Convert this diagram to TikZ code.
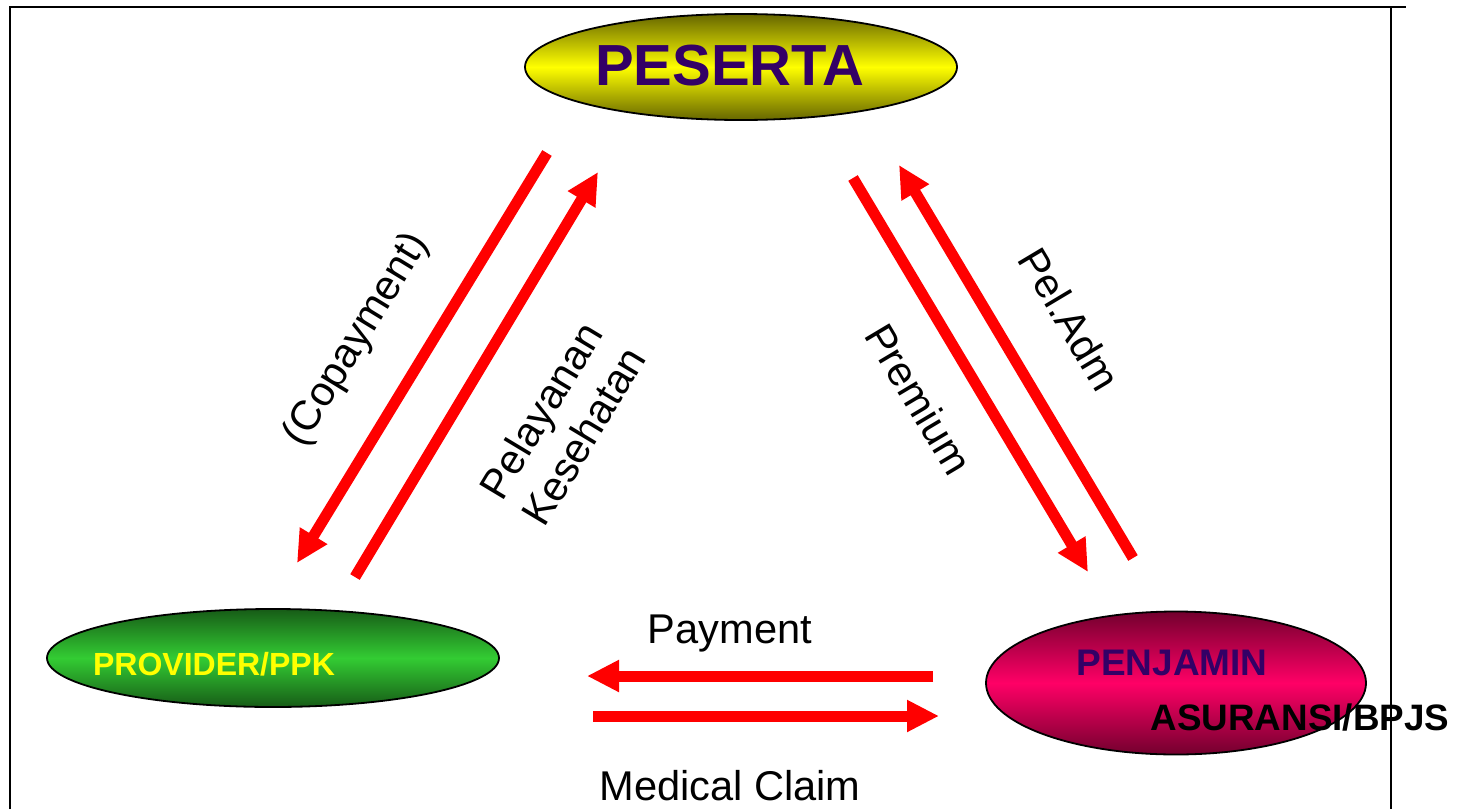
\documentclass[tikz,border=0pt]{standalone}
\usepackage{fontspec}
\setmainfont{Liberation Sans}
\usetikzlibrary{arrows.meta,shapes.geometric}
\definecolor{ungu}{HTML}{330066}
\definecolor{kuning}{HTML}{FFFF00}
\definecolor{hijau}{HTML}{33CC33}
\definecolor{merah}{HTML}{FF0066}
\tikzset{elips/.style={ellipse,draw=black,line width=0.9pt,inner sep=0pt},
         panah/.style={draw=red,line width=5.5pt,-{Triangle[length=16pt,width=15pt]}},
         teks/.style={font=\fontsize{20.8}{25}\selectfont,inner sep=0pt},
         tebal/.style={font=\bfseries,inner sep=0pt,anchor=base}}

\begin{document}
\begin{tikzpicture}[x=0.5pt,y=-0.5pt]
    \useasboundingbox (0,0) rectangle (1462,809);
    \draw [line width=1pt] (10,809) -- (10,7) -- (1406,7);
    \draw [line width=1pt] (1391,7) -- (1391,809);

    \path node [elips, minimum width=216pt, minimum height=53pt,
                top color=kuning!40!black, bottom color=kuning!40!black,
                middle color=kuning] (peserta) at (741,67) {}
          node [elips, minimum width=226pt, minimum height=49pt,
                top color=hijau!45!black, bottom color=hijau!45!black,
                middle color=hijau] (provider) at (273,658) {}
          node [elips, minimum width=190pt, minimum height=71.5pt,
                top color=merah!45!black, bottom color=merah!45!black,
                middle color=merah] (penjamin) at (1176,683) {};

    \path node [tebal, text=ungu, font=\fontsize{29}{34}\selectfont\bfseries] (t1) at (730,85) {PESERTA}
          node [tebal, text=kuning, font=\fontsize{16}{19}\selectfont\bfseries] (t2) at (214,675) {PROVIDER/PPK}
          node [tebal, text=ungu, font=\fontsize{18.5}{22}\selectfont\bfseries] (t3) at (1172,675) {PENJAMIN}
          node [tebal, font=\fontsize{18.4}{22}\selectfont\bfseries] (t4) at (1300,730) {ASURANSI/BPJS};

    % ujung panah
    \path coordinate (1) at (547,153)   coordinate (2) at (297,563)
          coordinate (3) at (355,577)   coordinate (4) at (598,172)
          coordinate (5) at (853,178)   coordinate (6) at (1088,572)
          coordinate (7) at (1133,558)  coordinate (8) at (899,165)
          coordinate (9) at (933,676)   coordinate (10) at (587,676)
          coordinate (11) at (593,716)  coordinate (12) at (939,716);

    \path (1) edge [panah] (2)
          (3) edge [panah] (4)
          (5) edge [panah] (6)
          (7) edge [panah] (8)
          (9) edge [panah] (10)
          (11) edge [panah] (12);

    \path node [teks, rotate=58.6] (l1) at (357,340) {(Copayment)}
          node [teks, rotate=59, align=center] (l2) at (562,423) {Pelayanan\\Kesehatan}
          node [teks, rotate=-59.2] (l3) at (919,399) {Premium}
          node [teks, rotate=-59.2] (l4) at (1070,319) {Pel.Adm}
          node [teks, anchor=base] (l5) at (730,643) {Payment}
          node [teks, anchor=base] (l6) at (730,800) {Medical Claim};
\end{tikzpicture}
\end{document}
